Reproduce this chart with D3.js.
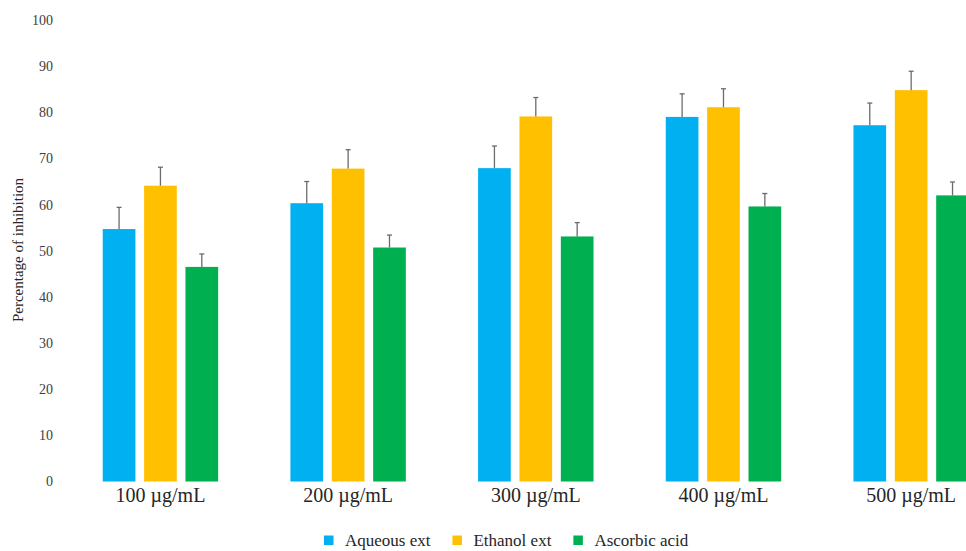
<!DOCTYPE html>
<html>
<head>
<meta charset="utf-8">
<script src="https://cdn.jsdelivr.net/npm/d3@7"></script>
<style>
  body { margin: 0; background: #fff; }
  svg { display: block; font-family: "Liberation Serif", "Times New Roman", serif; }
</style>
</head>
<body>
<div id="chart"></div>
<script>
// data
var categories = ["100 µg/mL", "200 µg/mL", "300 µg/mL", "400 µg/mL", "500 µg/mL"];
var seriesNames = ["Aqueous ext", "Ethanol ext", "Ascorbic acid"];
var seriesColors = ["#00B0F0", "#FFC000", "#00B050"];
var aqueous = [54.7, 60.3, 67.9, 79.0, 77.2];
var ethanol = [64.1, 67.8, 79.1, 81.1, 84.8];
var ascorbic = [46.5, 50.7, 53.1, 59.6, 62.0];
var aqueousErr = [4.7, 4.7, 4.8, 5.0, 4.8];
var ethanolErr = [4.0, 4.1, 4.1, 4.0, 4.1];
var ascorbicErr = [2.8, 2.7, 3.0, 2.8, 2.9];
var yTicks = [0, 10, 20, 30, 40, 50, 60, 70, 80, 90, 100];

var values = [aqueous, ethanol, ascorbic];
var errors = [aqueousErr, ethanolErr, ascorbicErr];

var width = 966, height = 551;

var svg = d3.select("#chart").append("svg")
  .attr("width", width)
  .attr("height", height);

// scales
var x0 = d3.scaleBand()
  .domain(categories)
  .range([66.6, 1005])
  .paddingInner(0.385)
  .paddingOuter(0.1925);

var x1 = d3.scaleBand()
  .domain(seriesNames)
  .range([0, x0.bandwidth()])
  .paddingInner(0.21);

var y = d3.scaleLinear()
  .domain([0, 100])
  .range([481.5, 20]);

// y axis (labels only, no line)
var yAxis = svg.append("g")
  .attr("transform", "translate(53,0)")
  .call(d3.axisLeft(y).tickValues(yTicks).tickSize(0).tickPadding(0));
yAxis.select(".domain").remove();
yAxis.selectAll("text")
  .style("font-family", "'Liberation Serif', 'Times New Roman', serif")
  .style("font-size", "14px")
  .attr("fill", "#404040");

// x axis labels
var xAxis = svg.append("g")
  .attr("transform", "translate(0,481.5)")
  .call(d3.axisBottom(x0).tickSize(0).tickPadding(6));
xAxis.select(".domain").remove();
xAxis.selectAll("text")
  .style("font-family", "'Liberation Serif', 'Times New Roman', serif")
  .style("font-size", "20px")
  .attr("fill", "#262626");

// y axis title
svg.append("text")
  .attr("transform", "translate(23,250) rotate(-90)")
  .attr("text-anchor", "middle")
  .style("font-size", "15px")
  .attr("fill", "#262626")
  .text("Percentage of inhibition");

// bars
var rows = [];
categories.forEach(function(c, i) {
  seriesNames.forEach(function(s, j) {
    rows.push({cat: c, series: s, value: values[j][i], err: errors[j][i], color: seriesColors[j]});
  });
});

svg.selectAll(".bar")
  .data(rows)
  .enter().append("rect")
  .attr("class", "bar")
  .attr("x", function(d) { return x0(d.cat) + x1(d.series); })
  .attr("y", function(d) { return y(d.value); })
  .attr("width", x1.bandwidth())
  .attr("height", function(d) { return y(0) - y(d.value); })
  .attr("fill", function(d) { return d.color; });

// error bars (upper only)
var eb = svg.selectAll(".err")
  .data(rows)
  .enter().append("g")
  .attr("class", "err")
  .attr("stroke", "#6b6b6b")
  .attr("stroke-width", 1.3);

eb.append("line")
  .attr("x1", function(d) { return x0(d.cat) + x1(d.series) + x1.bandwidth() / 2; })
  .attr("x2", function(d) { return x0(d.cat) + x1(d.series) + x1.bandwidth() / 2; })
  .attr("y1", function(d) { return y(d.value); })
  .attr("y2", function(d) { return y(d.value + d.err); });

eb.append("line")
  .attr("x1", function(d) { return x0(d.cat) + x1(d.series) + x1.bandwidth() / 2 - 2.5; })
  .attr("x2", function(d) { return x0(d.cat) + x1(d.series) + x1.bandwidth() / 2 + 2.5; })
  .attr("y1", function(d) { return y(d.value + d.err); })
  .attr("y2", function(d) { return y(d.value + d.err); });

// legend (nudged up a little so the descenders stay inside the frame)
var legend = svg.append("g").attr("transform", "translate(324,535.5)");
var lx = 0;
seriesNames.forEach(function(s, i) {
  var g = legend.append("g").attr("transform", "translate(" + lx + ",0)");
  g.append("rect")
    .attr("width", 9.5)
    .attr("height", 9.5)
    .attr("fill", seriesColors[i]);
  var t = g.append("text")
    .attr("x", 21)
    .attr("y", 10.5)
    .style("font-size", "17px")
    .attr("fill", "#262626")
    .text(s);
  lx += 21 + t.node().getComputedTextLength() + 22;
});
</script>
</body>
</html>
